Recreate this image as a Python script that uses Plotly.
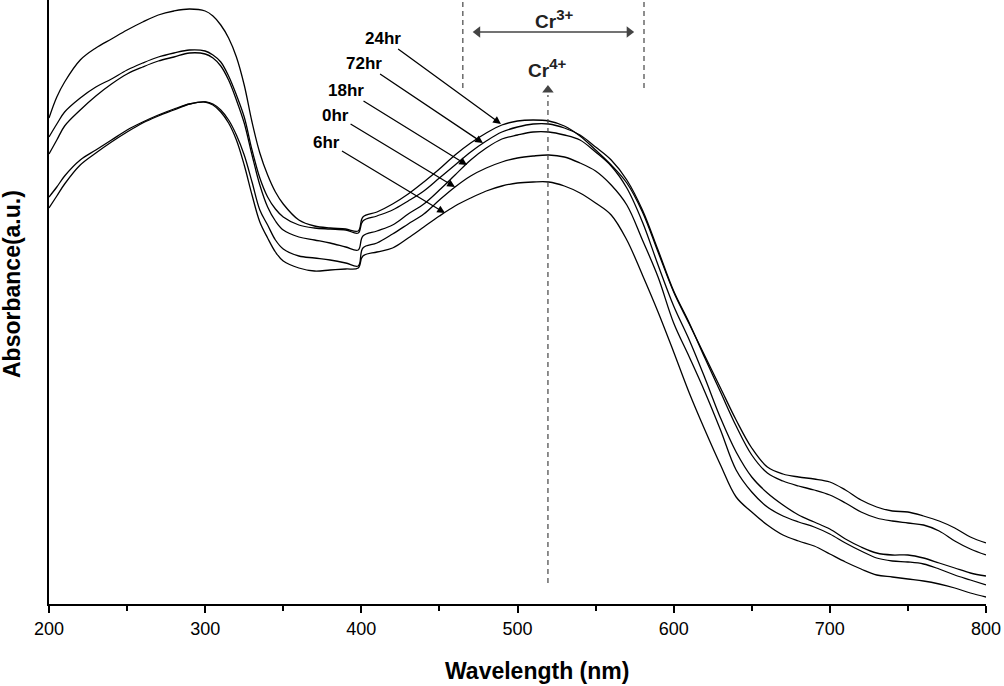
import plotly.graph_objects as go

# Wavelength grid (nm)
wavelength = [200, 205, 210, 220, 230, 240, 250, 260, 270, 280, 290, 300,
              305, 310, 315, 320, 325, 330, 335, 340, 345, 350,
              360, 370, 380, 390, 398, 401,
              410, 420, 430, 440, 450, 460, 470, 480, 490, 500, 510, 520,
              530, 540, 550, 560, 570, 580, 590, 600, 610, 620,
              630, 640, 650, 660, 670, 680, 690, 700, 710, 720,
              730, 740, 750, 760, 770, 780, 790, 800]

# Absorbance (a.u.)
abs_24hr = [486, 507, 522, 544, 556, 565, 574, 582, 589, 593, 595, 593,
            588, 579, 566, 547, 519, 482, 451, 429, 412, 400,
            384, 378, 376, 375, 373, 387,
            392, 400, 410, 422, 435, 449, 461, 471, 479, 483, 484, 483,
            478, 468, 454, 439, 421, 392, 352, 312, 280, 248,
            216, 184, 156, 137, 130, 127, 125, 122, 114, 104,
            97, 93, 92, 88, 83, 76, 67, 61]
abs_72hr = [467, 480, 492, 506, 517, 525, 534, 541, 547, 551, 554, 553,
            549, 542, 528, 509, 487, 454, 426, 407, 395, 387,
            379, 376, 375, 374, 371, 383,
            388, 394, 403, 413, 426, 439, 452, 463, 472, 477, 480, 480,
            476, 469, 457, 444, 424, 394, 354, 313, 281, 246,
            212, 178, 149, 131, 123, 118, 114, 109, 101, 92,
            86, 83, 81, 79, 73, 63, 55, 49]
abs_18hr = [450, 464, 478, 494, 508, 520, 530, 537, 543, 547, 551, 550,
            546, 538, 524, 504, 481, 449, 419, 397, 383, 374,
            367, 364, 361, 357, 354, 368,
            373, 379, 390, 400, 414, 429, 444, 456, 465, 469, 472, 472,
            469, 464, 452, 438, 416, 382, 339, 298, 264, 226,
            186, 152, 127, 111, 99, 89, 82, 75, 65, 57,
            51, 49, 49, 46, 41, 36, 31, 28]
abs_0hr = [407, 417, 428, 444, 454, 464, 474, 482, 489, 495, 500, 502,
           500, 494, 484, 469, 449, 422, 394, 379, 364, 355,
           348, 346, 344, 341, 338, 356,
           361, 370, 380, 390, 404, 417, 428, 436, 442, 446, 448, 449,
           447, 441, 433, 419, 399, 364, 327, 281, 247, 212,
           174, 134, 112, 97, 88, 82, 77, 70, 61, 53,
           46, 43, 42, 40, 35, 29, 24, 19]
abs_6hr = [396, 408, 420, 439, 451, 462, 472, 481, 488, 494, 500, 502,
           499, 492, 481, 464, 439, 409, 382, 366, 352, 343,
           336, 333, 334, 335, 336, 348,
           352, 356, 366, 377, 388, 398, 406, 413, 418, 421, 422, 422,
           418, 411, 401, 389, 364, 329, 292, 252, 211, 174,
           139, 107, 92, 79, 69, 63, 58, 50, 42, 35,
           29, 27, 25, 23, 20, 16, 11, 7]

series = [("24hr", abs_24hr), ("72hr", abs_72hr), ("18hr", abs_18hr),
          ("0hr", abs_0hr), ("6hr", abs_6hr)]

# Label annotations: (text, text centre x, text centre y, arrow head x, head y)
labels = [("24hr", 413.9, 566, 489.4, 480),
          ("72hr", 401.5, 541, 477.9, 461),
          ("18hr", 390.0, 514, 467.7, 439),
          ("0hr", 383.5, 489, 460.0, 417),
          ("6hr", 378.0, 462, 453.6, 391)]

# Cr3+ band region and Cr4+ peak
cr3_left, cr3_right = 465, 581
cr3_arrow_left, cr3_arrow_right = 471, 575
cr3_arrow_y = 572
cr4_peak = 519.5
y_top = 604

FONT = "Arial, Liberation Sans, sans-serif"
GREY = "#444"

fig = go.Figure()
for name, vals in series:
    fig.add_trace(go.Scatter(x=wavelength, y=vals, mode="lines", name=name,
                             line=dict(color="black", width=1.3,
                                       shape="spline", smoothing=1.0),
                             hoverinfo="x+y+name"))

# arrow heads for the Cr3+ double arrow and the Cr4+ arrow
fig.add_trace(go.Scatter(x=[cr3_arrow_left + 3.5, cr3_arrow_right - 3.5],
                         y=[cr3_arrow_y, cr3_arrow_y], mode="markers",
                         marker=dict(symbol=["triangle-left", "triangle-right"],
                                     size=10, color=GREY),
                         hoverinfo="skip"))
fig.add_trace(go.Scatter(x=[cr4_peak], y=[514], mode="markers",
                         marker=dict(symbol="triangle-up", size=10, color=GREY),
                         hoverinfo="skip"))

shapes = []
for xv in (cr3_left, cr3_right):
    shapes.append(dict(type="line", xref="x", yref="y", x0=xv, x1=xv,
                       y0=516, y1=y_top,
                       line=dict(color=GREY, width=1.2, dash="5px,4px")))
shapes.append(dict(type="line", xref="x", yref="y", x0=cr4_peak, x1=cr4_peak,
                   y0=21, y1=509,
                   line=dict(color=GREY, width=1.2, dash="5px,4px")))
shapes.append(dict(type="line", xref="x", yref="y",
                   x0=cr3_arrow_left + 4, x1=cr3_arrow_right - 4,
                   y0=cr3_arrow_y, y1=cr3_arrow_y,
                   line=dict(color=GREY, width=1.4)))

SUP = "<sup><span style='font-size:15px'>{}</span></sup>"
annotations = []
annotations.append(dict(x=523.5, y=585, xref="x", yref="y",
                        text="<b>Cr" + SUP.format("3+") + "</b>",
                        showarrow=False,
                        font=dict(family=FONT, size=19, color="#222")))
annotations.append(dict(x=519, y=536, xref="x", yref="y",
                        text="<b>Cr" + SUP.format("4+") + "</b>",
                        showarrow=False,
                        font=dict(family=FONT, size=19, color="#222")))

for text, tx, ty, hx, hy in labels:
    annotations.append(dict(x=hx, y=hy, ax=tx, ay=ty, xref="x", yref="y",
                            axref="x", ayref="y",
                            text="<b>" + text + "</b>", showarrow=True,
                            arrowhead=2, arrowsize=1.2, arrowwidth=1.3,
                            arrowcolor="black",
                            font=dict(family=FONT, size=17, color="black")))

# axis titles
annotations.append(dict(x=(537 - 49) / 937, y=0, xref="paper", yref="paper",
                        yshift=-67, yanchor="middle", xanchor="center",
                        text="<b>Wavelength (nm)</b>", showarrow=False,
                        font=dict(family=FONT, size=23, color="black")))
annotations.append(dict(x=0, y=(604 - 284) / 604, xref="paper", yref="paper",
                        xshift=-37, xanchor="center", yanchor="middle",
                        textangle=-90, text="<b>Absorbance(a.u.)</b>",
                        showarrow=False,
                        font=dict(family=FONT, size=23, color="black")))

fig.update_layout(
    width=1004, height=686,
    margin=dict(l=49, r=18, t=0, b=82),
    plot_bgcolor="white", paper_bgcolor="white",
    showlegend=False,
    shapes=shapes, annotations=annotations,
    xaxis=dict(range=[200, 800], tickvals=[200, 300, 400, 500, 600, 700, 800],
               ticks="outside", ticklen=7, tickwidth=1.5, tickcolor="black",
               minor=dict(dtick=50, tick0=200, ticks="outside", ticklen=5,
                          tickwidth=1.5, tickcolor="black"),
               showline=True, linewidth=2, linecolor="black",
               showgrid=False, zeroline=False,
               tickfont=dict(family=FONT, size=18, color="black")),
    yaxis=dict(range=[0, y_top], showline=True, linewidth=2, linecolor="black",
               showticklabels=False, ticks="", showgrid=False, zeroline=False),
)

fig.write_html("out.html")
